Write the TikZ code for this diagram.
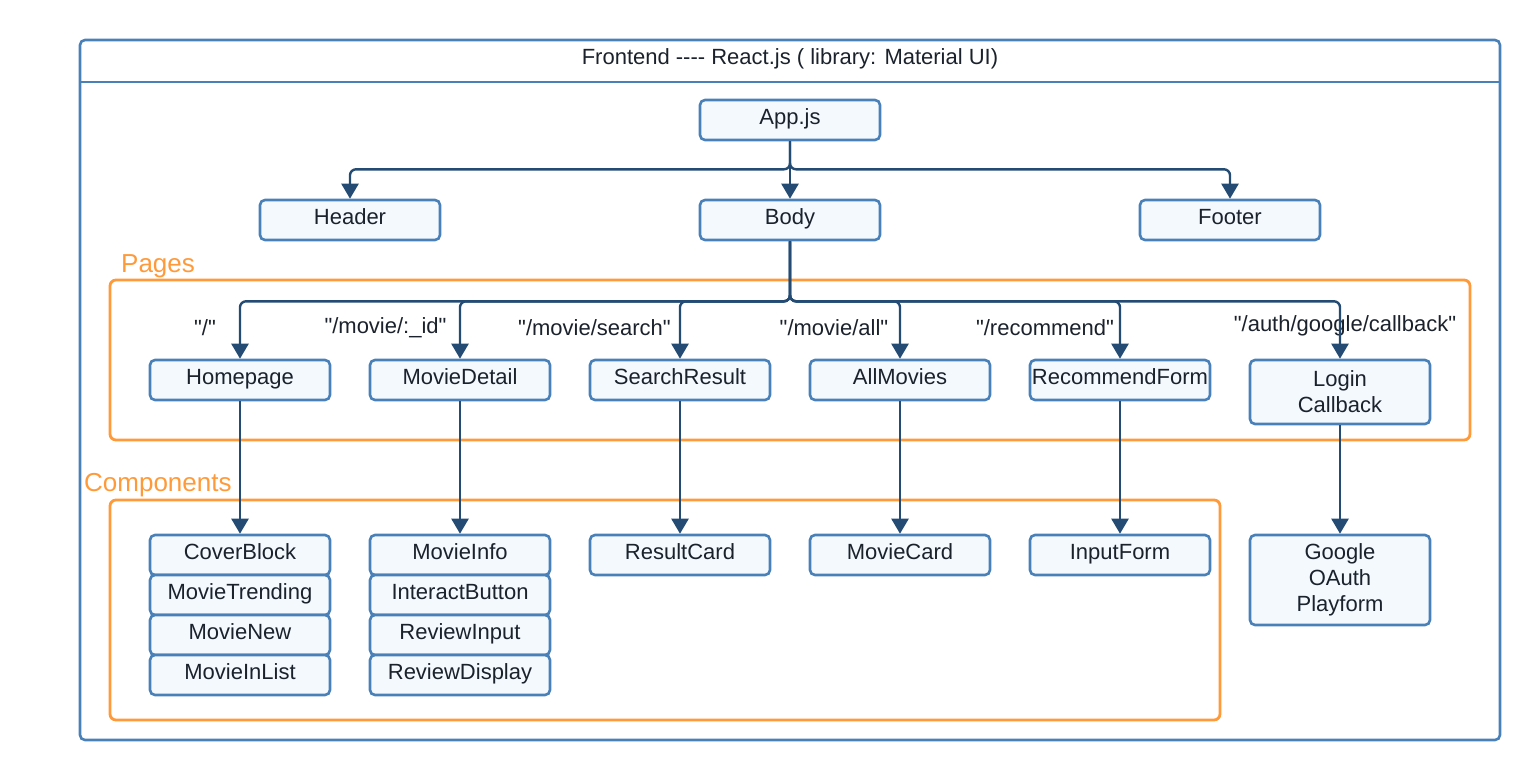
\documentclass[tikz,border=0pt]{standalone}
\usepackage{fontspec}
\setmainfont{Liberation Sans}[Ligatures=TeXOff]
\usetikzlibrary{arrows.meta}
\definecolor{bordercol}{HTML}{4A80B8}
\definecolor{fillcol}{HTML}{F4F9FE}
\definecolor{arrcol}{HTML}{234B73}
\definecolor{orangecol}{HTML}{FF9A3A}
\definecolor{textcol}{HTML}{1B222C}
\tikzset{
  box/.style={draw=bordercol, fill=fillcol, line width=2.6pt, rounded corners=5pt,
    minimum width=180pt, minimum height=40pt, inner sep=0pt, align=center,
    text=textcol, font=\fontsize{22}{26}\selectfont},
  onebox/.style={box, text height=15.5pt, text depth=7.5pt},
  arr/.style={draw=arrcol, line width=2.4pt, rounded corners=6pt,
    -{Triangle[length=15pt,width=17pt]}},
  lbl/.style={text=textcol, font=\fontsize{22}{26}\selectfont, inner sep=0pt},
  grp/.style={draw=orangecol, line width=2.8pt, rounded corners=6pt},
  grplbl/.style={text=orangecol, font=\fontsize{26}{30}\selectfont, inner sep=0pt, anchor=west}
}
\begin{document}
\begin{tikzpicture}[x=1pt,y=-1pt]
\useasboundingbox (0,0) rectangle (1540,780);
% outer frame
\draw[draw=bordercol, line width=2.6pt, rounded corners=5pt] (80,40) rectangle (1500,740);
\draw[draw=bordercol, line width=2.6pt] (80,82) -- (1500,82);
\node[lbl] (title) at (790,59) {Frontend ---- React.js ( library: Material UI)};
% group frames
\draw[grp] (110,280) rectangle (1470,440);
\node[grplbl] (pageslbl) at (121,266) {Pages};
\draw[grp] (110,500) rectangle (1220,720);
\node[grplbl] (complbl) at (84,485) {Components};
% top level
\node[onebox] (app) at (790,120) {App.js};
\node[onebox] (header) at (350,220) {Header};
\node[onebox] (body) at (790,220) {Body};
\node[onebox] (footer) at (1230,220) {Footer};
% pages
\node[onebox] (home) at (240,380) {Homepage};
\node[onebox] (detail) at (460,380) {MovieDetail};
\node[onebox] (search) at (680,380) {SearchResult};
\node[onebox] (all) at (900,380) {AllMovies};
\node[onebox] (recform) at (1120,380) {RecommendForm};
\node[box, minimum height=64pt] (login) at (1340,392) {Login\\Callback};
% route labels
\node[lbl] (l1) at (205,328) {"/"};
\node[lbl] (l2) at (385.5,328) {"/movie/:\_id"};
\node[lbl] (l3) at (594.5,328) {"/movie/search"};
\node[lbl] (l4) at (834,328) {"/movie/all"};
\node[lbl] (l5) at (1045,328) {"/recommend"};
\node[lbl] (l6) at (1345,326) {"/auth/google/callback"};
% components
\node[onebox] (cover) at (240,555) {CoverBlock};
\node[onebox] (trend) at (240,595) {MovieTrending};
\node[onebox] (new) at (240,635) {MovieNew};
\node[onebox] (inlist) at (240,675) {MovieInList};
\node[onebox] (info) at (460,555) {MovieInfo};
\node[onebox] (interact) at (460,595) {InteractButton};
\node[onebox] (revin) at (460,635) {ReviewInput};
\node[onebox] (revdisp) at (460,675) {ReviewDisplay};
\node[onebox] (result) at (680,555) {ResultCard};
\node[onebox] (card) at (900,555) {MovieCard};
\node[onebox] (input) at (1120,555) {InputForm};
\node[box, minimum height=90pt] (google) at (1340,580) {Google\\OAuth\\Playform};
% connectors top
\draw[arr] (app.south) -- ++(0,28) -| (header.north);
\draw[arr] (app.south) -- (body.north);
\draw[arr] (app.south) -- ++(0,28) -| (footer.north);
% body to pages
\foreach \n in {home,detail,search,all,recform,login}
  \draw[arr] (body.south) -- ++(0,60) -| (\n.north);
% pages to components
\draw[arr] (home.south) -- (cover.north);
\draw[arr] (detail.south) -- (info.north);
\draw[arr] (search.south) -- (result.north);
\draw[arr] (all.south) -- (card.north);
\draw[arr] (recform.south) -- (input.north);
\draw[arr] (login.south) -- (google.north);
\end{tikzpicture}
\end{document}
